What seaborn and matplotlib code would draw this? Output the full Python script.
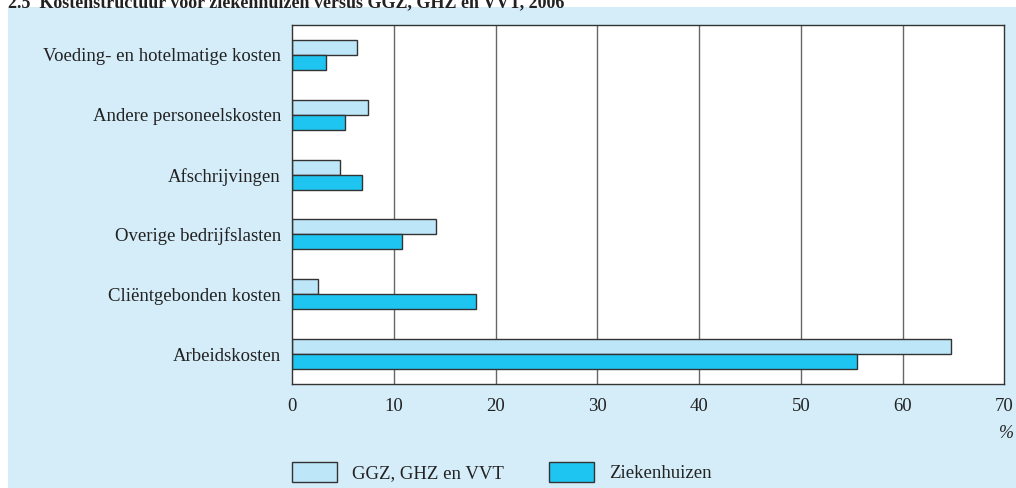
import pandas as pd
import matplotlib.pyplot as plt
import seaborn as sns
from matplotlib.patches import Rectangle, Patch

# data
categories = ['Voeding- en hotelmatige kosten', 'Andere personeelskosten', 'Afschrijvingen',
              'Overige bedrijfslasten', 'Cliëntgebonden kosten', 'Arbeidskosten']
ggz = [6.4, 7.5, 4.7, 14.1, 2.6, 64.7]
ziekenhuizen = [3.3, 5.2, 6.9, 10.8, 18.1, 55.5]
series = ['GGZ, GHZ en VVT', 'Ziekenhuizen']
colors = ['#bde6f8', '#1ec5f0']
xticks = [0, 10, 20, 30, 40, 50, 60, 70]

df = pd.DataFrame({'Kostensoort': categories * 2,
                   'Sector': [series[0]] * len(categories) + [series[1]] * len(categories),
                   'Aandeel': ggz + ziekenhuizen})

sns.set_theme(style='white')
plt.rcParams['font.family'] = ['Liberation Serif', 'DejaVu Serif']

fig = plt.figure(figsize=(10.16, 4.88), dpi=100, facecolor='white')
#light blue panel behind everything
fig.patches.append(Rectangle((8 / 1016, 0), 1 - 8 / 1016, 481 / 488, transform=fig.transFigure,
                             facecolor='#d4edf9', edgecolor='none', zorder=-5))

ax = fig.add_axes([292 / 1016, 104 / 488, 712.5 / 1016, 359 / 488])
sns.barplot(data=df, y='Kostensoort', x='Aandeel', hue='Sector', hue_order=series,
            order=categories, palette=colors, saturation=1, orient='h', width=0.5,
            edgecolor='#333333', linewidth=1, ax=ax, legend=False)

ax.set_facecolor('white')
ax.set_xlim(0, 70)
ax.set_ylim(5.5, -0.5)
ax.set_xticks(xticks)
ax.set_xlabel('')
ax.set_ylabel('')
for x in xticks[1:-1]:
    ax.axvline(x, color='#666666', lw=1, zorder=0)
for s in ax.spines.values():
    s.set_color('#333333')
    s.set_linewidth(1)
ax.tick_params(axis='x', length=0, pad=10, labelsize=13.5, colors='#222222')
ax.tick_params(axis='y', length=0, pad=8, labelsize=13.5, colors='#222222')

#title, partly cut off at the top like the reference
fig.text(8 / 1016, 0.995, '2.5  Kostenstructuur voor ziekenhuizen versus GGZ, GHZ en VVT, 2006',
         fontsize=13, fontweight='bold', va='center', ha='left', color='#222222')

fig.text(1006 / 1016, 1 - 433 / 488, '%', fontsize=13, style='italic', ha='center', va='center',
         color='#222222')

handles = [Patch(facecolor=c, edgecolor='#333333', linewidth=1) for c in colors]
fig.legend(handles, series, ncol=2, loc='center left', bbox_to_anchor=(283 / 1016, 1 - 472 / 488),
           frameon=False, fontsize=13.5, handlelength=2.4, handleheight=1.23,
           handletextpad=0.8, columnspacing=2.4, borderpad=0, labelcolor='#222222')

fig.savefig('out.png', dpi=100)
